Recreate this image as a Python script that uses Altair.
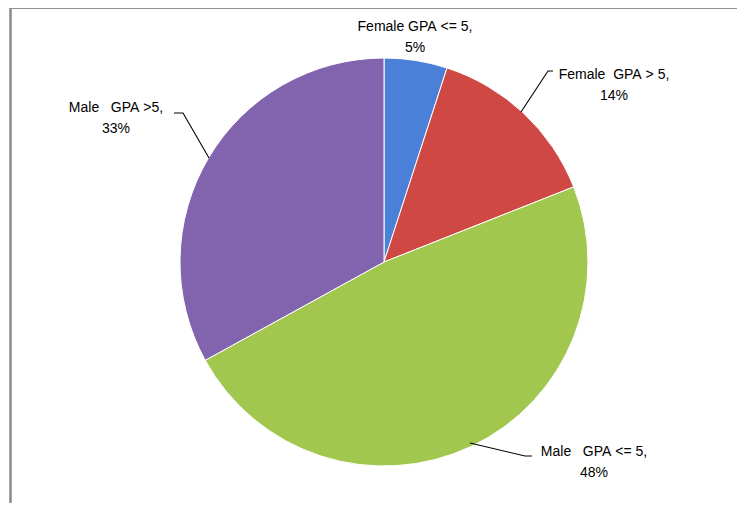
import altair as alt
import pandas as pd

# ---- data ----
categories = ["Female GPA <= 5", "Female GPA > 5", "Male GPA <= 5", "Male GPA > 5"]
shares = [5, 14, 48, 33]
label_line1 = ["Female GPA <= 5,", "Female  GPA > 5,", "Male   GPA <= 5,", "Male   GPA >5,"]
label_line2 = ["5%", "14%", "48%", "33%"]
colors = ["#4A80D8", "#CF4844", "#A2C74F", "#8263AE"]

# ---- layout (page pixel coordinates) ----
OX, OY = 8, 10          # plot origin on the page
W, H = 729, 493
CX, CY, R = 384, 262, 204
label_x = [415, 614, 594, 116]
label_y = [27, 75, 452, 108]     # first line of each label
leader_label = [1, 1, 1, 3, 3, 3, 2, 2, 2]
leader_order = [0, 1, 2, 0, 1, 2, 0, 1, 2]
leader_x = [553, 548, 521, 174, 183, 209, 532, 525, 470]
leader_y = [71, 71, 112, 113, 113, 158, 456, 456, 443]

NBSP = "\u00a0"
pie_df = pd.DataFrame({"cat": categories, "share": shares, "idx": range(len(shares))})
lab_df = pd.DataFrame({
    "text": [a.replace(" ", NBSP) + "\n" + b for a, b in zip(label_line1, label_line2)],
    "x": label_x, "y": label_y,
})
lead_df = pd.DataFrame({"lab": leader_label, "o": leader_order, "x": leader_x, "y": leader_y})

xs = alt.Scale(domain=[OX, OX + W], nice=False, zero=False)
ys = alt.Scale(domain=[OY, OY + H], nice=False, zero=False, reverse=True)

pie = alt.Chart(pie_df).mark_arc(outerRadius=R, stroke="#ffffff", strokeWidth=1).encode(
    theta=alt.Theta("share:Q", stack=True),
    order=alt.Order("idx:Q"),
    color=alt.Color("cat:N", scale=alt.Scale(domain=categories, range=colors), legend=None),
    x=alt.value(CX - OX),
    y=alt.value(CY - OY),
)

leaders = alt.Chart(lead_df).mark_line(color="#000000", strokeWidth=1.1).encode(
    x=alt.X("x:Q", scale=xs, axis=None),
    y=alt.Y("y:Q", scale=ys, axis=None),
    detail="lab:N",
    order="o:Q",
)

labels = alt.Chart(lab_df).mark_text(
    font="Liberation Sans", fontSize=14, lineBreak="\n", lineHeight=21,
    align="center", baseline="middle", color="#000000",
).encode(
    x=alt.X("x:Q", scale=xs, axis=None),
    y=alt.Y("y:Q", scale=ys, axis=None),
    text="text:N",
)

frame_top = alt.Chart(pie_df).mark_rule(color="#8a8a8a", strokeWidth=1.6).encode(
    x=alt.value(2), x2=alt.value(W), y=alt.value(-2.3),
)
frame_left = alt.Chart(pie_df).mark_rule(color="#8a8a8a", strokeWidth=1.6).encode(
    x=alt.value(2.5), y=alt.value(-3), y2=alt.value(H),
)

chart = alt.layer(frame_top, frame_left, pie, leaders, labels).properties(
    width=W, height=H,
    autosize=alt.AutoSizeParams(type="none"),
    padding={"left": 0, "top": 2, "right": 0, "bottom": 0},
).configure_view(strokeWidth=0).resolve_scale(color="independent")

chart.save("out.html", embed_options={"renderer": "svg", "actions": False})
